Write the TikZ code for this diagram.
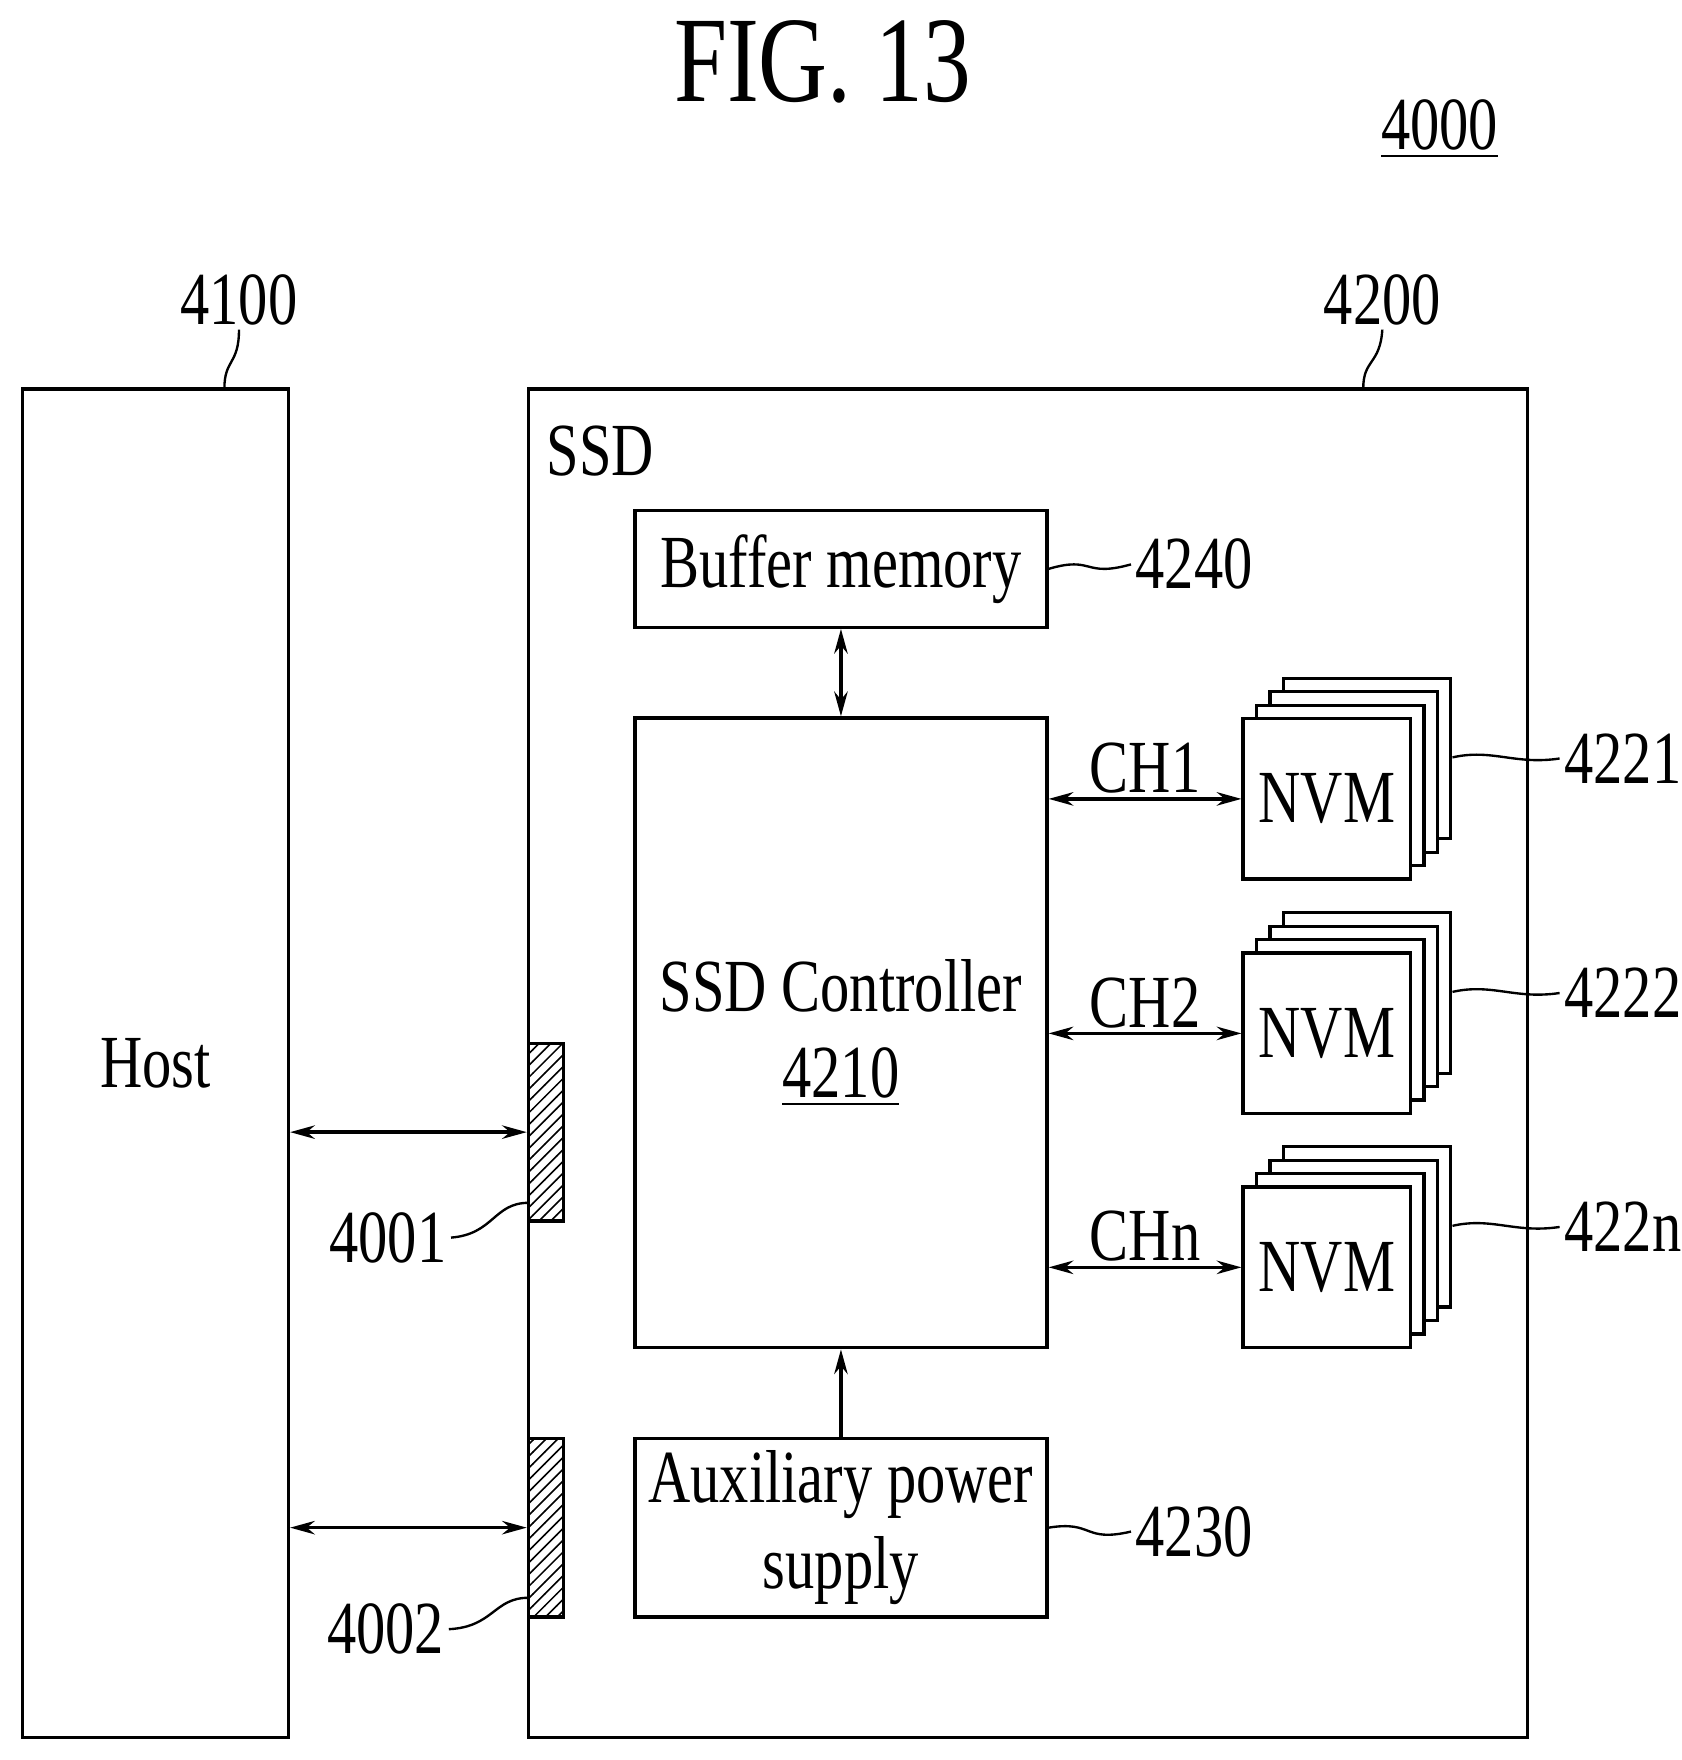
\documentclass[tikz,border=0pt]{standalone}
\usepackage{fontspec}
\setmainfont{Liberation Serif}[FakeStretch=0.78]
\usetikzlibrary{arrows.meta,patterns,calc}
\tikzset{
	box/.style={draw, line width=0.85pt, fill=white, inner sep=0pt, align=center, font=\fontsize{19}{24}\selectfont},
	lbl/.style={font=\fontsize{19}{24}\selectfont, inner sep=1pt},
	lead/.style={line width=0.6pt},
	dbl/.style={line width=0.85pt, {Stealth[length=2.2mm,width=1.2mm]}-{Stealth[length=2.2mm,width=1.2mm]}},
	sgl/.style={line width=0.85pt, -{Stealth[length=2.2mm,width=1.2mm]}},
}
\begin{document}
\begin{tikzpicture}[x=0.01cm, y=-0.01cm]
	\useasboundingbox (0,0) rectangle (1499,1568.6);
	
	\node[font=\fontsize{31}{36}\selectfont] (title) at (733,55) {FIG. 13};
	\node[lbl] (sys) at (1283,115) {\underline{4000}};
	
	% host and ssd
	\node[box, minimum width=2.37cm, minimum height=12.01cm] (host) at (138.5,947.5) {Host};
	\node[box, minimum width=8.90cm, minimum height=12.01cm] (ssd) at (916,947.5) {};
	\node[lbl] (ssdtxt) at (535,402) {SSD};
	\node[lbl] (l4100) at (213,267) {4100};
	\node[lbl] (l4200) at (1232,267) {4200};
	\draw[lead] (200,346) .. controls (200,320) and (213,325) .. (l4100.south);
	\draw[lead] (1215,346) .. controls (1215,320) and (1230,325) .. (l4200.south);
	
	% blocks inside the ssd
	\node[box, minimum width=3.67cm, minimum height=1.04cm] (buf) at (749.5,507) {Buffer memory};
	\node[box, minimum width=3.67cm, minimum height=5.61cm] (ctrl) at (749.5,920.5) {SSD Controller\\[-2pt]\underline{4210}};
	\node[box, minimum width=3.67cm, minimum height=1.59cm] (aux) at (749.5,1361.5) {Auxiliary power\\[-2pt]supply};
	\node[lbl, anchor=west] (l4240) at (1008,503) {4240};
	\node[lbl, anchor=west] (l4230) at (1008,1365) {4230};
	\draw[lead] (buf.east) .. controls (975,495) and (965,515) .. (l4240.west);
	\draw[lead] (aux.east) .. controls (975,1355) and (965,1375) .. (l4230.west);
	\draw[dbl] (buf.south) -- (ctrl.north);
	\draw[sgl] (aux.north) -- (ctrl.south);
	
	% connectors
	\node[box, pattern=north east lines, minimum width=0.31cm, minimum height=1.58cm] (p1) at (486.5,1009) {};
	\node[box, pattern=north east lines, minimum width=0.31cm, minimum height=1.59cm] (p2) at (486.5,1361.5) {};
	\node[lbl, anchor=east] (l4001) at (402,1103) {4001};
	\node[lbl, anchor=east] (l4002) at (400,1452) {4002};
	\draw[lead] (l4001.east) .. controls (440,1100) and (440,1072) .. (471,1072);
	\draw[lead] (l4002.east) .. controls (440,1450) and (440,1424) .. (471,1424);
	\draw[dbl] (host.east |- p1.west) -- (p1.west);
	\draw[dbl] (host.east |- p2.west) -- (p2.west);
	
	% nvm stacks
	\foreach \n/\y/\c/\l in {1/712/CH1/4221, 2/921/CH2/4222, n/1129.5/CHn/422n}{
		\foreach \k in {3,2,1}
			\draw[line width=0.85pt, fill=white] (1108+12*\k,\y-71.5-12*\k) rectangle (1257+12*\k,\y+71.5-12*\k);
		\node[box, minimum width=1.49cm, minimum height=1.43cm] (nvm\n) at (1182.5,\y) {NVM};
		\node[lbl, anchor=west] (l\n) at (1390,\y-36) {\l};
		\draw[lead] ($(nvm\n.east)+(36,-37)$) .. controls (1330,\y-45) and (1350,\y-30) .. (l\n.west);
		\draw[dbl] (ctrl.east |- nvm\n.west) -- node[lbl, above] (ch\n) {\c} (nvm\n.west);
	}
\end{tikzpicture}
\end{document}
